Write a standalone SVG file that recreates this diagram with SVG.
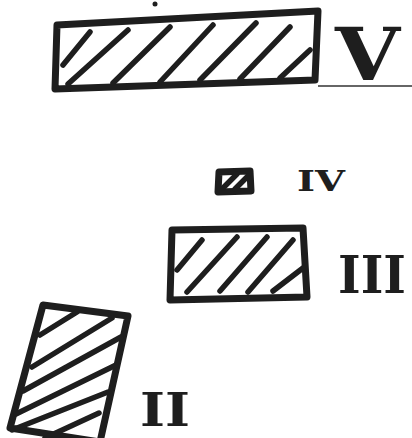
<svg xmlns="http://www.w3.org/2000/svg" width="412" height="438" viewBox="0 0 412 438">
<style>
.box{fill:none;stroke:#1e1e1e;stroke-width:7;stroke-linejoin:round;stroke-linecap:round}
.hatch{fill:none;stroke:#1e1e1e;stroke-width:5.5;stroke-linecap:round}
.num{font-family:"DejaVu Serif","Liberation Serif",serif;font-weight:bold;fill:#1e1e1e}
</style>
<rect width="412" height="438" fill="#ffffff"/>
<circle cx="155" cy="4" r="2.5" fill="#1e1e1e"/>
<g id="block-v">
<path class="box" d="M57,25 L318,11 L315,80 L55,89 Z"/>
<path class="hatch" d="M63,65 L90,32 M68,84 L128,30 M113,83 L170,27 M160,82 L213,25 M200,80 L256,23 M240,79 L290,27 M280,78 L310,50"/>
<text class="num" x="335" y="80" font-size="72" textLength="65" lengthAdjust="spacingAndGlyphs">V</text>
<line x1="318" y1="86" x2="412" y2="86" stroke="#333" stroke-width="1.5"/>
</g>
<g id="block-iv">
<path class="box" d="M219,172 L250,171 L251,191 L218,192 Z" stroke-width="6"/>
<path class="hatch" d="M223,188 L237,174 M235,189 L248,176" stroke-width="4"/>
<text class="num" x="297" y="191" font-size="27" textLength="48" lengthAdjust="spacingAndGlyphs">IV</text>
</g>
<g id="block-iii">
<path class="box" d="M172,230 L303,228 L307,297 L170,300 Z"/>
<path class="hatch" d="M177,270 L202,240 M187,292 L237,237 M220,291 L267,237 M248,292 L293,240 M273,291 L303,268"/>
<text class="num" x="338" y="293" font-size="52" textLength="68" lengthAdjust="spacingAndGlyphs">III</text>
</g>
<g id="block-ii">
<path class="box" d="M43,305 L128,316 L100,442 L10,428 Z"/>
<path class="hatch" d="M40,335 L77,312 M32,367 L112,318 M23,391 L121,337 M16,414 L116,365 M12,430 L108,392 M45,438 L99,413"/>
<text class="num" x="140" y="426" font-size="46" textLength="50" lengthAdjust="spacingAndGlyphs">II</text>
</g>
</svg>
